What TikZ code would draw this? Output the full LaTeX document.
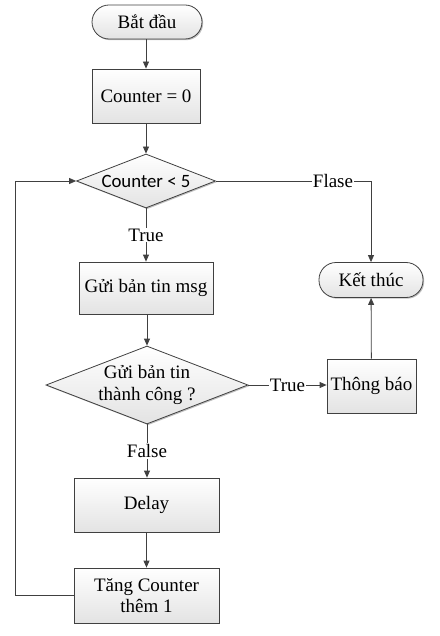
\documentclass[tikz,border=0pt]{standalone}
\usepackage{fontspec}
\setmainfont{Liberation Serif}
\newfontfamily\tnrfont{Liberation Serif}
\newfontfamily\calibrifont{Carlito}
\usetikzlibrary{arrows.meta,shapes.geometric,shadows}
\definecolor{ln}{HTML}{404040}
\begin{document}
\begin{tikzpicture}[x=1pt,y=-1pt,
  every node/.style={font=\tnrfont\fontsize{19}{21.5}\selectfont, text=black},
  conn/.style={draw=ln, line width=0.8pt},
  arr/.style={conn, -{Triangle[length=7pt,width=6pt]}},
  shapebase/.style={draw=ln, line width=0.8pt, top color=white, bottom color=black!11,
     drop shadow={shadow xshift=1.2pt, shadow yshift=-1.2pt, opacity=0.25, fill=black}},
  procbox/.style={shapebase, rectangle, inner sep=2pt, align=center},
  termbox/.style={shapebase, rectangle, rounded corners=17pt, inner sep=2pt},
  decbox/.style={shapebase, diamond, inner sep=0pt, align=center},
  lab/.style={fill=white, inner sep=1pt}
  ]
\useasboundingbox (0,0) rectangle (439,636);
\node[termbox, minimum width=110pt, minimum height=34pt] (start) at (147,22) {Bắt đầu};
\node[procbox, minimum width=108pt, minimum height=54pt] (init) at (146,96) {Counter = 0};
\node[decbox, shape aspect=2.57, minimum width=139pt, minimum height=54pt,
      font=\calibrifont\fontsize{18.8}{21}\selectfont] (dec1) at (146,181) {Counter < 5};
\node[procbox, minimum width=134pt, minimum height=52pt] (send) at (146,288) {Gửi bản tin msg};
\node[decbox, shape aspect=2.59, minimum width=202pt, minimum height=78pt] (dec2) at (147,385) {Gửi bản tin\\thành công ?};
\node[procbox, minimum width=145pt, minimum height=54pt] (delay) at (146.5,505) {Delay};
\node[procbox, minimum width=145pt, minimum height=55pt] (inc) at (146.5,595.5) {Tăng Counter\\thêm 1};
\node[termbox, minimum width=104pt, minimum height=35pt] (end) at (371,280) {Kết thúc};
\node[procbox, minimum width=89pt, minimum height=54pt] (notify) at (371.5,386) {Thông báo};

\coordinate (c1) at (15,595.5);
\coordinate (c2) at (15,181);
\coordinate (c3) at (371,181);

\draw[arr] (start.south -| init.north) -- (init.north);
\draw[arr] (init) -- (dec1);
\draw[arr] (dec1) -- node[lab]{True} (send);
\draw[arr] (send.south) -- (send.south -| dec2.north) -- (dec2.north);
\draw[arr] (dec2) -- node[lab]{False} (dec2.south |- delay.north);
\draw[arr] (delay) -- (inc);
\draw[arr] (inc.west) -- (c1) -- (c2) -- (dec1.west);
\draw[arr] (dec1.east) -- node[lab, pos=0.755]{Flase} (c3) -- (end.north);
\draw[arr] (notify) -- (end);
\draw[arr] (dec2.east) -- node[lab]{True} (dec2.east -| notify.west);
\end{tikzpicture}
\end{document}
